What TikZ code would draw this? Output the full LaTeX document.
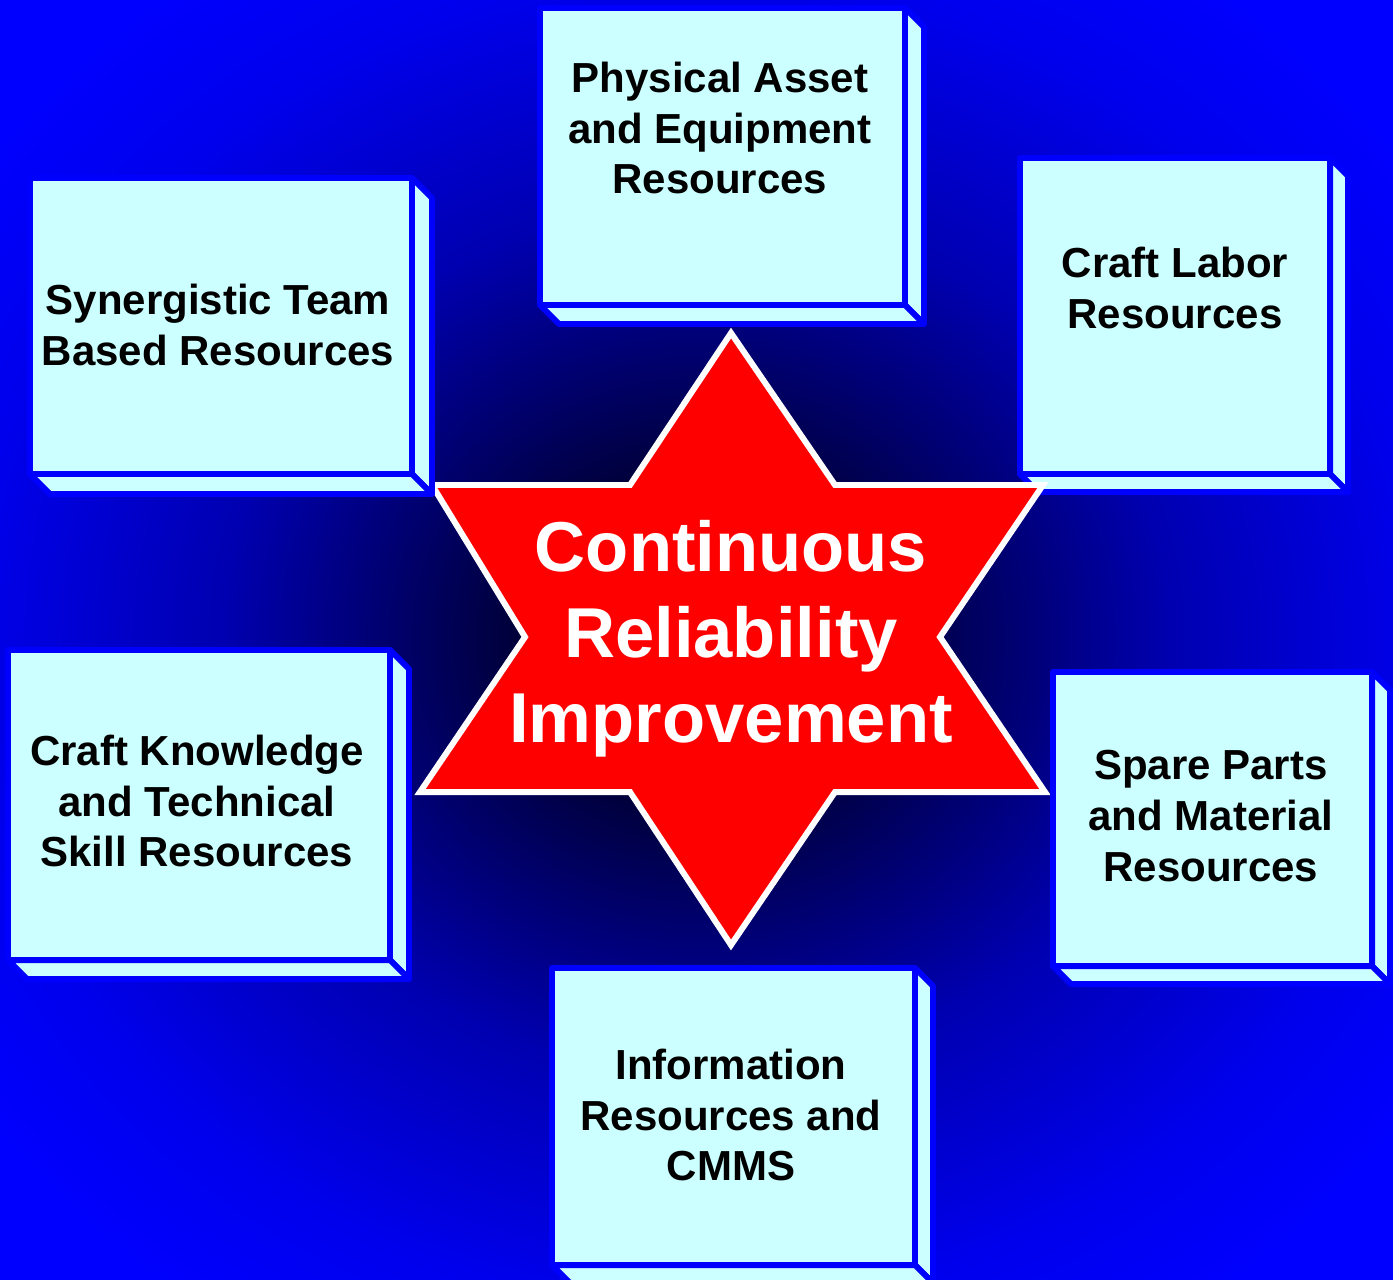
\documentclass[tikz,border=0pt]{standalone}
\usepackage{fontspec}
\setmainfont{Liberation Sans}
\usetikzlibrary{positioning}
\definecolor{boxfill}{HTML}{CCFFFF}
\definecolor{boxline}{HTML}{0000FF}
\definecolor{starred}{HTML}{FF0000}
\definecolor{bgdark}{HTML}{00001E}
\definecolor{bgmid}{HTML}{0000B0}
\definecolor{bgedge}{HTML}{0000EC}
\definecolor{bgblue}{HTML}{0000FF}

\pgfdeclareradialshading{bgglow}{\pgfpoint{0bp}{0bp}}{color(0bp)=(bgdark); color(4bp)=(bgdark); color(17bp)=(bgmid); color(26bp)=(bgedge); color(32bp)=(bgblue); color(50bp)=(bgblue)}

% 3D resource box: x1, y1, x2, y2, depth
\newcommand{\resbox}[5]{%
  \filldraw[boxface] (#3,#2) -- (#3+#5,#2+#5) -- (#3+#5,#4+#5) -- (#3,#4) -- cycle;
  \filldraw[boxface] (#1,#4) -- (#3,#4) -- (#3+#5,#4+#5) -- (#1+#5,#4+#5) -- cycle;
  \filldraw[boxface] (#1,#2) rectangle (#3,#4);
}

\tikzset{
  boxface/.style={fill=boxfill,draw=boxline,line width=3.4pt,line join=round},
  boxtext/.style={text=black,align=center,font=\fontsize{23.9}{29}\selectfont\bfseries},
  startext/.style={text=white,align=center,font=\fontsize{40.2}{48.6}\selectfont\bfseries}
}

\begin{document}
\begin{tikzpicture}[x=0.02cm,y=-0.02cm]
    \useasboundingbox (0,0) rectangle (1393,1279);
    % Background
    \shade[shading=bgglow] (0,0) rectangle (1393,1279);

    % Physical asset
    \resbox{540}{8}{905}{305}{19}
    \node[boxtext] (asset) at (720,128) {Physical Asset\\and Equipment\\Resources};

    % Craft labor
    \resbox{1020}{158}{1330}{474}{18}
    \node[boxtext] (labor) at (1175,288) {Craft Labor\\Resources};

    % Star
    \filldraw[fill=starred,draw=white,line width=3.4pt,line join=miter]
      (731,333) -- (835,485) -- (1043,485) -- (940,637) -- (1045,792) -- (835,792)
      -- (731,945) -- (630,792) -- (420,792) -- (525,637) -- (432,485) -- (630,485) -- cycle;
    \node[startext] (cri) at (731,639) {Continuous\\Reliability\\Improvement};

    % Synergistic team
    \resbox{30}{178}{412}{474}{20}
    \node[boxtext] (synergy) at (218,325) {Synergistic Team\\Based Resources};

    % Craft knowledge
    \resbox{8}{650}{390}{960}{19}
    \node[boxtext] (skill) at (197,801) {Craft Knowledge\\and Technical\\Skill Resources};

    % Spare parts
    \resbox{1053}{672}{1372}{966}{18}
    \node[boxtext] (parts) at (1211,816) {Spare Parts\\and Material\\Resources};

    % Information
    \resbox{552}{968}{915}{1265}{18}
    \node[boxtext] (info) at (731,1115) {Information\\Resources and\\CMMS};
  \end{tikzpicture}
\end{document}
